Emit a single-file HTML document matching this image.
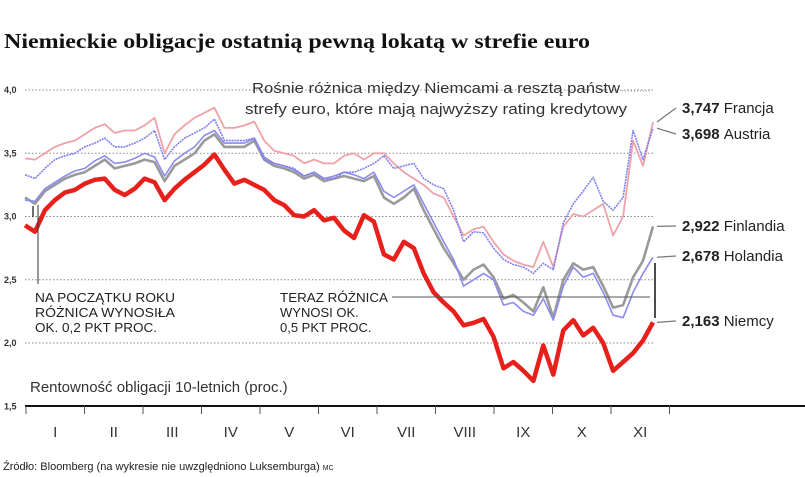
<!DOCTYPE html>
<html><head><meta charset="utf-8"><style>
html,body{margin:0;padding:0;background:#fff;}
svg{display:block;font-family:"Liberation Sans",sans-serif;}
</style></head><body>
<svg id="chart" width="805" height="477" viewBox="0 0 805 477">
<text x="4" y="48" font-family="Liberation Serif, serif" font-weight="bold" font-size="21" textLength="586" lengthAdjust="spacingAndGlyphs" fill="#111">Niemieckie obligacje ostatnią pewną lokatą w strefie euro</text>
<g id="grid"></g>
<g id="series"></g>
<g id="axis"></g>
<text x="252" y="93" font-size="15" fill="#333" textLength="368" lengthAdjust="spacingAndGlyphs">Rośnie różnica między Niemcami a resztą państw</text>
<line x1="622" y1="91" x2="652" y2="91" stroke="#999" stroke-dasharray="1,2"/>
<text x="245" y="114" font-size="15" fill="#333" textLength="382" lengthAdjust="spacingAndGlyphs">strefy euro, które mają najwyższy rating kredytowy</text>
<g>
<line x1="38" y1="205" x2="38" y2="284" stroke="#333" stroke-width="1"/>
<line x1="33" y1="206" x2="33" y2="217" stroke="#111" stroke-width="1.2"/>
<text x="35" y="302" font-size="13" fill="#222" textLength="140" lengthAdjust="spacingAndGlyphs">NA POCZĄTKU ROKU</text>
<text x="35" y="317" font-size="13" fill="#222" textLength="140" lengthAdjust="spacingAndGlyphs">RÓŻNICA WYNOSIŁA</text>
<text x="35" y="332" font-size="13" fill="#222" textLength="122" lengthAdjust="spacingAndGlyphs">OK. 0,2 PKT PROC.</text>
</g>
<g>
<text x="280" y="302" font-size="13" fill="#222" textLength="108" lengthAdjust="spacingAndGlyphs">TERAZ RÓŻNICA</text>
<text x="280" y="317" font-size="13" fill="#222">WYNOSI OK.</text>
<text x="280" y="332" font-size="13" fill="#222">0,5 PKT PROC.</text>
<line x1="392" y1="297" x2="650" y2="297" stroke="#555" stroke-width="1"/>
<line x1="655" y1="263" x2="655" y2="318" stroke="#111" stroke-width="1.5"/>
</g>
<text x="30" y="392" font-size="15" fill="#333">Rentowność obligacji 10-letnich  (proc.)</text>
<g id="labels"></g>
<text x="3" y="470" font-size="11" fill="#222">Źródło: Bloomberg (na wykresie nie uwzględniono Luksemburga) <tspan font-size="7">MC</tspan></text>
</svg>
<script>
const months = ["I","II","III","IV","V","VI","VII","VIII","IX","X","XI"];
const yTicks = [1.5,2.0,2.5,3.0,3.5,4.0];
const yTickLabels = ["1,5","2,0","2,5","3,0","3,5","4,0"];
const niemcy = [2.93,2.88,3.05,3.13,3.19,3.21,3.26,3.29,3.30,3.21,3.17,3.22,3.30,3.27,3.13,3.22,3.29,3.35,3.41,3.49,3.37,3.26,3.29,3.25,3.21,3.13,3.09,3.01,3.0,3.05,2.97,2.99,2.89,2.83,3.01,2.96,2.70,2.66,2.80,2.75,2.55,2.40,2.32,2.25,2.14,2.16,2.19,2.05,1.80,1.85,1.78,1.70,1.98,1.75,2.10,2.18,2.06,2.12,2.0,1.78,1.85,1.92,2.02,2.163];
const finlandia = [3.15,3.10,3.2,3.25,3.3,3.33,3.35,3.4,3.45,3.38,3.4,3.42,3.45,3.43,3.28,3.4,3.45,3.5,3.6,3.65,3.55,3.55,3.55,3.6,3.45,3.4,3.38,3.35,3.3,3.33,3.28,3.3,3.32,3.3,3.28,3.32,3.15,3.1,3.15,3.22,3.05,2.9,2.75,2.63,2.5,2.58,2.62,2.52,2.35,2.38,2.32,2.25,2.44,2.2,2.5,2.63,2.58,2.6,2.45,2.28,2.3,2.52,2.65,2.922];
const holandia = [3.13,3.12,3.22,3.27,3.32,3.36,3.38,3.44,3.48,3.42,3.43,3.46,3.5,3.47,3.32,3.44,3.5,3.55,3.64,3.68,3.58,3.58,3.58,3.62,3.47,3.42,3.4,3.37,3.32,3.35,3.3,3.32,3.35,3.33,3.3,3.35,3.2,3.15,3.2,3.25,3.1,2.95,2.8,2.66,2.45,2.5,2.55,2.5,2.3,2.32,2.25,2.22,2.35,2.18,2.45,2.6,2.52,2.55,2.4,2.22,2.2,2.4,2.55,2.678];
const austria = [3.33,3.30,3.38,3.45,3.48,3.5,3.55,3.58,3.62,3.55,3.55,3.58,3.62,3.68,3.45,3.55,3.62,3.66,3.7,3.77,3.6,3.6,3.6,3.62,3.45,3.42,3.4,3.38,3.32,3.35,3.3,3.3,3.35,3.35,3.38,3.42,3.48,3.38,3.4,3.42,3.3,3.25,3.22,3.05,2.8,2.88,2.87,2.75,2.66,2.62,2.6,2.55,2.63,2.58,2.95,3.1,3.2,3.31,3.12,3.05,3.15,3.68,3.45,3.698];
const francja = [3.46,3.45,3.5,3.55,3.58,3.6,3.65,3.7,3.73,3.66,3.68,3.68,3.72,3.78,3.5,3.65,3.72,3.78,3.82,3.86,3.7,3.7,3.72,3.75,3.6,3.52,3.5,3.48,3.42,3.45,3.42,3.42,3.48,3.5,3.45,3.5,3.5,3.42,3.35,3.3,3.25,3.18,3.15,3.0,2.85,2.9,2.92,2.8,2.7,2.65,2.62,2.6,2.8,2.6,2.92,3.02,3.0,3.05,3.1,2.85,3.0,3.6,3.4,3.747];
const names = ["Francja","Austria","Finlandia","Holandia","Niemcy"];

const NS="http://www.w3.org/2000/svg";
function mk(tag, attrs, parent){const e=document.createElementNS(NS,tag);for(const k in attrs)e.setAttribute(k,attrs[k]);parent.appendChild(e);return e;}
const X0=25, X1=653;
function xScale(i,n){return X0+(X1-X0)*i/(n-1);}
function yScale(v){return 90+(4-v)*126.5;}

const grid=document.getElementById('grid');
yTicks.forEach((t,i)=>{
  const y=yScale(t);
  if(t>1.5){
    const l=mk('line',{x1:25,y1:y,x2:655,y2:y,stroke:'#888','stroke-width':1,'stroke-dasharray':'1.5,2'},grid);
    
    
  }
  const tx=mk('text',{x:4,y:y+3,'font-size':9,'font-weight':'bold',fill:'#333'},grid);
  tx.textContent=yTickLabels[i];
  
  
});

const axis=document.getElementById('axis');
const ax=mk('line',{x1:25,y1:406,x2:805,y2:406,stroke:'#111','stroke-width':2},axis);


for(let k=0;k<=months.length;k++){
  const x=26+58.5*k;
  const tk=mk('line',{x1:x,y1:406,x2:x,y2:414,stroke:'#555','stroke-width':1},axis);
  
  
}
months.forEach((m,k)=>{
  const t=mk('text',{x:26+58.5*k+29.25,y:437,'font-size':15,'text-anchor':'middle',fill:'#333'},axis);
  t.textContent=m;
  
  
});

const series=document.getElementById('series');
function draw(arr,color,w,dash,name){
  const pts=arr.map((v,i)=>xScale(i,arr.length).toFixed(1)+','+yScale(v).toFixed(1)).join(' ');
  const p=mk('polyline',{points:pts,fill:'none',stroke:color,'stroke-width':w,'stroke-linejoin':'round'},series);
  if(dash)p.setAttribute('stroke-dasharray',dash);
  
  
}
draw(francja,'#f0a2a8',1.8,null,'line-francja');
draw(finlandia,'#9a9a9a',2.6,null,'line-finlandia');
draw(holandia,'#8c8cf0',1.6,null,'line-holandia');
draw(austria,'#8080f0',1.6,'2,0.8','line-austria');
draw(niemcy,'#e8201c',4.5,null,'line-niemcy');

const labels=document.getElementById('labels');
const lastVals=[francja,austria,finlandia,holandia,niemcy].map(a=>a[a.length-1]);
const labelY=[108,134,226,256,321];
names.forEach((n,i)=>{
  const v=lastVals[i];
  const y0=yScale(v);
  const c=mk('line',{x1:657,y1:y0,x2:676,y2:labelY[i],stroke:'#777','stroke-width':1.2},labels);
  
  
  const t=mk('text',{x:682,y:labelY[i]+5,'font-size':15,fill:'#222'},labels);
  const b=mk('tspan',{'font-weight':'bold'},t);
  b.textContent=v.toFixed(3).replace('.',',')+' ';
  const s=mk('tspan',{},t);
  s.textContent=n;
  
  
});
</script>
</body></html>
